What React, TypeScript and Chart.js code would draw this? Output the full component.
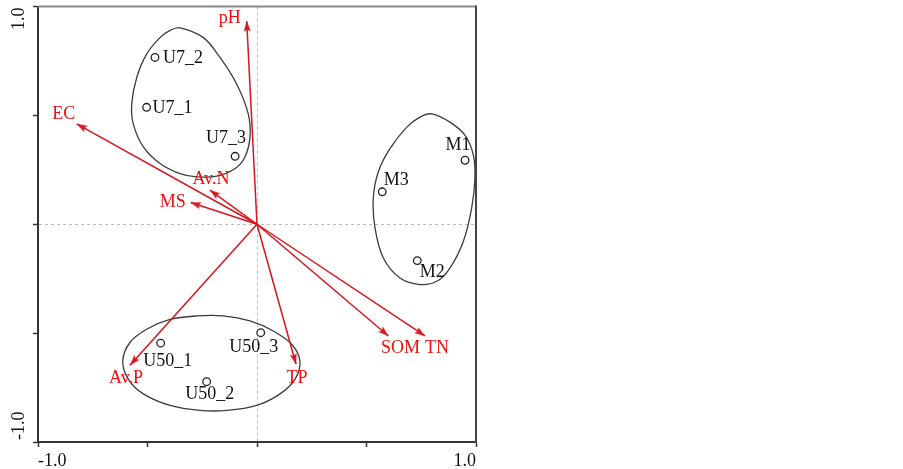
import React, { useEffect, useRef } from 'react';
import { Chart, registerables } from 'chart.js';
Chart.register(...registerables);

// ---------- data ----------
const sampleNames = ['U7_1', 'U7_2', 'U7_3', 'M1', 'M2', 'M3', 'U50_1', 'U50_2', 'U50_3'];
const sampleX = [-0.504, -0.466, -0.100, 0.950, 0.732, 0.572, -0.440, -0.230, 0.017];
const sampleY = [0.537, 0.766, 0.312, 0.294, -0.167, 0.149, -0.546, -0.723, -0.498];

const varNames = ['pH', 'EC', 'Av.N', 'MS', 'Av.P', 'TP', 'SOM', 'TN'];
const varX = [-0.047, -0.823, -0.215, -0.303, -0.580, 0.178, 0.600, 0.767];
const varY = [0.933, 0.461, 0.157, 0.100, -0.647, -0.642, -0.513, -0.513];

const hullU7X = [-0.352, -0.245, -0.169, -0.093, -0.040, -0.032, -0.055, -0.100, -0.184, -0.275, -0.352, -0.443, -0.519, -0.565, -0.572, -0.549, -0.504, -0.443, -0.397];
const hullU7Y = [0.902, 0.857, 0.766, 0.644, 0.507, 0.400, 0.309, 0.256, 0.221, 0.218, 0.233, 0.279, 0.355, 0.461, 0.553, 0.674, 0.781, 0.857, 0.890];

const hullMX = [0.798, 0.881, 0.950, 0.988, 0.995, 0.980, 0.942, 0.881, 0.821, 0.744, 0.653, 0.577, 0.539, 0.531, 0.554, 0.607, 0.684, 0.744];
const hullMY = [0.507, 0.469, 0.408, 0.317, 0.210, 0.073, -0.079, -0.201, -0.262, -0.277, -0.247, -0.155, -0.018, 0.119, 0.241, 0.347, 0.446, 0.492];

const hullU50X = [-0.613, -0.580, -0.504, -0.397, -0.275, -0.154, -0.032, 0.074, 0.158, 0.196, 0.174, 0.105, -0.001, -0.138, -0.260, -0.397, -0.519, -0.588];
const hullU50Y = [-0.627, -0.543, -0.482, -0.437, -0.421, -0.421, -0.444, -0.490, -0.551, -0.627, -0.711, -0.779, -0.832, -0.855, -0.855, -0.832, -0.779, -0.711];

const xTickLabels = ['-1.0', '', '', '', '1.0'];
const yTickLabels = ['-1.0', '', '', '', '1.0'];

// ---------- styles ----------
const FONT = '"Liberation Serif", "Times New Roman", serif';
const RED_LINE = '#d8141e';
const RED_TEXT = '#f20c0c';
const HULL_COLOR = '#3c3c3c';

type Off = { dx: number; dy: number; align: CanvasTextAlign };
const sampleLabelOffsets: Record<string, Off> = {
  U7_1: { dx: 6, dy: 1, align: 'left' },
  U7_2: { dx: 8, dy: 1, align: 'left' },
  U7_3: { dx: -9, dy: -18, align: 'center' },
  M1: { dx: -7, dy: -15, align: 'center' },
  M2: { dx: 15, dy: 12, align: 'center' },
  M3: { dx: 14, dy: -12, align: 'center' },
  U50_1: { dx: 7, dy: 18, align: 'center' },
  U50_2: { dx: 3, dy: 13, align: 'center' },
  U50_3: { dx: -7, dy: 15, align: 'center' },
};
const varLabelOffsets: Record<string, Off> = {
  pH: { dx: -17, dy: -3, align: 'center' },
  EC: { dx: -13, dy: -10, align: 'center' },
  'Av.N': { dx: 1, dy: -11, align: 'center' },
  MS: { dx: -18, dy: 0, align: 'center' },
  'Av.P': { dx: -4, dy: 13, align: 'center' },
  TP: { dx: 1, dy: 14, align: 'center' },
  SOM: { dx: 12, dy: 12, align: 'center' },
  TN: { dx: 12, dy: 12, align: 'center' },
};

function closedHull(xs: number[], ys: number[]) {
  const pts = xs.map((x, i) => ({ x, y: ys[i] }));
  const n = pts.length;
  const data = [pts[n - 1], ...pts, pts[0], pts[1]];
  return {
    type: 'scatter' as const,
    data,
    showLine: true,
    tension: 0.35,
    borderWidth: 1.3,
    borderColor: HULL_COLOR,
    pointRadius: 0,
    segment: {
      borderColor: (ctx: any) =>
        ctx.p0DataIndex === 0 || ctx.p0DataIndex === n + 1 ? 'rgba(0,0,0,0)' : HULL_COLOR,
    },
  };
}

function makeArrowHead() {
  const c = document.createElement('canvas');
  c.width = 24;
  c.height = 24;
  const g = c.getContext('2d')!;
  g.fillStyle = RED_LINE;
  g.beginPath();
  g.moveTo(12, 12);
  g.lineTo(15.6, 22.5);
  g.lineTo(12, 20.5);
  g.lineTo(8.4, 22.5);
  g.closePath();
  g.fill();
  return c;
}

const labelPlugin = {
  id: 'ordLabels',
  afterDatasetsDraw(chart: any) {
    const { ctx } = chart;
    const xs = chart.scales.x;
    const ys = chart.scales.y;
    ctx.save();
    ctx.font = `18px ${FONT}`;
    ctx.textBaseline = 'middle';
    ctx.fillStyle = '#111';
    sampleNames.forEach((n, i) => {
      const o = sampleLabelOffsets[n];
      ctx.textAlign = o.align;
      ctx.fillText(n, xs.getPixelForValue(sampleX[i]) + o.dx, ys.getPixelForValue(sampleY[i]) + o.dy);
    });
    ctx.fillStyle = RED_TEXT;
    varNames.forEach((n, i) => {
      const o = varLabelOffsets[n];
      ctx.textAlign = o.align;
      ctx.fillText(n, xs.getPixelForValue(varX[i]) + o.dx, ys.getPixelForValue(varY[i]) + o.dy);
    });
    ctx.restore();

    // rotated y tick labels (inner aligned)
    ctx.save();
    ctx.font = `18px ${FONT}`;
    ctx.fillStyle = '#111';
    ctx.textBaseline = 'middle';
    const n = ys.ticks.length;
    ys.ticks.forEach((t: any, i: number) => {
      const label = yTickLabels[i];
      if (!label) return;
      const py = ys.getPixelForValue(t.value);
      ctx.save();
      if (i === 0) {
        ctx.translate(19, py - 2);
        ctx.rotate(-Math.PI / 2);
        ctx.textAlign = 'left';
      } else if (i === n - 1) {
        ctx.translate(19, py + 1);
        ctx.rotate(-Math.PI / 2);
        ctx.textAlign = 'right';
      } else {
        ctx.translate(19, py);
        ctx.rotate(-Math.PI / 2);
        ctx.textAlign = 'center';
      }
      ctx.fillText(label, 0, 0);
      ctx.restore();
    });
    ctx.restore();
  },
};

const framePlugin = {
  id: 'frame',
  beforeDatasetsDraw(chart: any) {
    const { ctx, chartArea: a } = chart;
    ctx.save();
    ctx.lineWidth = 2;
    ctx.strokeStyle = '#8a8a8a';
    ctx.beginPath();
    ctx.moveTo(a.left, a.top);
    ctx.lineTo(a.right, a.top);
    ctx.stroke();
    ctx.strokeStyle = '#444';
    ctx.beginPath();
    ctx.moveTo(a.right, a.top - 1);
    ctx.lineTo(a.right, a.bottom);
    ctx.stroke();
    ctx.restore();
  },
};

export default function App() {
  const ref = useRef<HTMLCanvasElement | null>(null);

  useEffect(() => {
    if (!ref.current) return;
    const arrow = makeArrowHead();
    const arrowSets = varNames.map((name, i) => ({
      type: 'scatter' as const,
      label: name,
      data: [
        { x: 0, y: 0 },
        { x: varX[i], y: varY[i] },
      ],
      showLine: true,
      borderColor: RED_LINE,
      borderWidth: 1.5,
      pointRadius: [0, 5],
      pointStyle: ['circle', arrow] as any,
      pointRotation: [0, (Math.atan2(varX[i], varY[i]) * 180) / Math.PI],
    }));

    const gridColor = (c: any) => (c.tick && c.tick.value === 0 ? '#bdbdbd' : 'rgba(0,0,0,0)');

    const chart = new Chart(ref.current, {
      type: 'scatter',
      data: {
        datasets: [
          {
            label: 'samples',
            data: sampleX.map((x, i) => ({ x, y: sampleY[i] })),
            pointStyle: 'circle',
            pointRadius: 3.8,
            pointBorderWidth: 1.3,
            pointBorderColor: '#222',
            pointBackgroundColor: '#fff',
          },
          ...arrowSets,
          closedHull(hullU7X, hullU7Y),
          closedHull(hullMX, hullMY),
          closedHull(hullU50X, hullU50Y),
        ] as any,
      },
      options: {
        animation: false,
        responsive: true,
        maintainAspectRatio: false,
        events: [],
        layout: { padding: { left: 0, top: 3, right: 427, bottom: 0 } },
        plugins: { legend: { display: false }, tooltip: { enabled: false } },
        scales: {
          x: {
            type: 'linear',
            min: -1,
            max: 1,
            afterFit: (s: any) => {
              s.height = 27;
            },
            ticks: {
              stepSize: 0.5,
              autoSkip: false,
              maxRotation: 0,
              align: 'inner',
              padding: 3,
              color: '#111',
              font: { family: FONT, size: 18 },
              callback: (_v: any, i: number) => xTickLabels[i],
            },
            grid: {
              drawOnChartArea: true,
              drawTicks: true,
              tickLength: 5,
              tickWidth: 1.5,
              tickColor: '#333',
              color: gridColor,
              lineWidth: 1,
            },
            border: { display: true, color: '#333', width: 2, dash: [3, 3] },
          },
          y: {
            type: 'linear',
            min: -1,
            max: 1,
            afterFit: (s: any) => {
              s.width = 38;
            },
            ticks: {
              stepSize: 0.5,
              display: false,
            },
            grid: {
              drawOnChartArea: true,
              drawTicks: true,
              tickLength: 5,
              tickWidth: 1.5,
              tickColor: '#333',
              color: gridColor,
              lineWidth: 1,
            },
            border: { display: true, color: '#333', width: 2, dash: [3, 3] },
          },
        },
      } as any,
      plugins: [framePlugin, labelPlugin],
    });
    return () => chart.destroy();
  }, []);

  return (
    <div style={{ position: 'fixed', left: 0, top: 0, width: 903, height: 469, background: '#fff' }}>
      <canvas ref={ref} />
    </div>
  );
}
